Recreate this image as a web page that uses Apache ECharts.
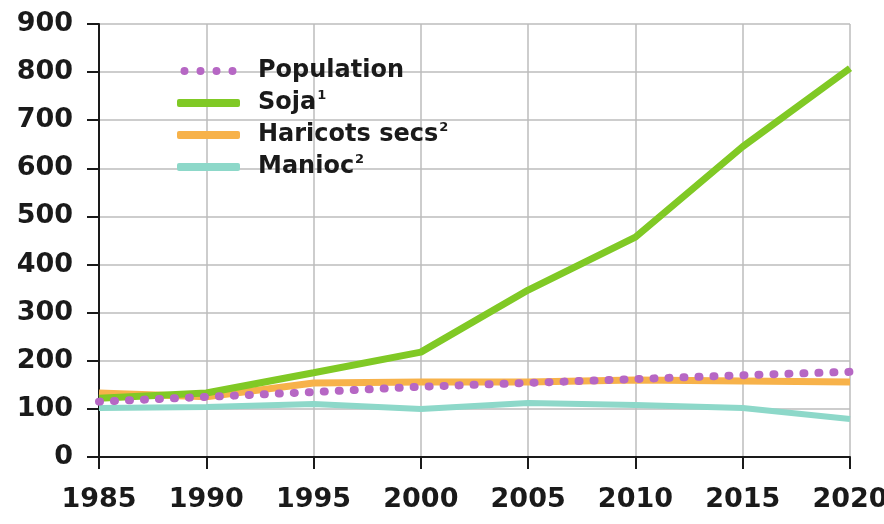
<!DOCTYPE html>
<html>
<head>
<meta charset="utf-8">
<script src="https://cdn.jsdelivr.net/npm/echarts@6/dist/echarts.min.js"></script>
<style>
  html, body { margin: 0; padding: 0; background: #fff; }
  #main { width: 884px; height: 524px; }
</style>
</head>
<body>
<div id="main"></div>
<script>
// années
var years = ['1985', '1990', '1995', '2000', '2005', '2010', '2015', '2020'];
// indices (base 100 en 1985 environ)
var population = [115, 125, 135, 146, 154, 162, 170, 177];
var soja = [122, 133, 175, 218, 347, 457, 645, 808];
var haricots = [133, 125, 154, 156, 156, 160, 158, 156];
var manioc = [102, 104, 110, 100, 112, 108, 102, 79];

var yTicks = [0, 100, 200, 300, 400, 500, 600, 700, 800, 900];

var dots = 'path://M0,4a4,4 0 1,0 8,0a4,4 0 1,0 -8,0Z' +
  'M16,4a4,4 0 1,0 8,0a4,4 0 1,0 -8,0Z' +
  'M32,4a4,4 0 1,0 8,0a4,4 0 1,0 -8,0Z' +
  'M48,4a4,4 0 1,0 8,0a4,4 0 1,0 -8,0Z';

var chart = echarts.init(document.getElementById('main'));

var option = {
  animation: false,
  grid: { left: 99, right: 34, top: 24, bottom: 67, containLabel: false, outerBoundsMode: 'none' },
  legend: {
    orient: 'vertical',
    left: 177,
    top: 57,
    padding: 0,
    itemWidth: 63,
    itemHeight: 8,
    itemGap: 4,
    textStyle: {
      fontFamily: 'DejaVu Sans',
      fontWeight: 'bold',
      fontSize: 24,
      lineHeight: 28,
      padding: [0, 0, 0, 13],
      color: '#1a1a1a',
      rich: {
        sup: { fontFamily: 'DejaVu Sans', fontWeight: 'bold', fontSize: 13, verticalAlign: 'top', lineHeight: 28, padding: [0, 0, 10, 1], color: '#1a1a1a' }
      }
    },
    data: [
      { name: 'Population', icon: dots },
      { name: 'Soja', icon: 'roundRect' },
      { name: 'Haricots secs', icon: 'roundRect' },
      { name: 'Manioc', icon: 'roundRect' }
    ],
    formatter: function (name) {
      if (name === 'Soja') return 'Soja{sup|1}';
      if (name === 'Haricots secs') return 'Haricots secs{sup|2}';
      if (name === 'Manioc') return 'Manioc{sup|2}';
      return name;
    }
  },
  xAxis: {
    type: 'category',
    data: years,
    boundaryGap: false,
    axisLine: { lineStyle: { color: '#1a1a1a', width: 2 } },
    axisTick: { show: true, length: 12, lineStyle: { color: '#1a1a1a', width: 2 } },
    axisLabel: {
      margin: 29,
      fontFamily: 'DejaVu Sans',
      fontWeight: 'bold',
      fontSize: 27,
      color: '#1a1a1a'
    },
    splitLine: { show: true, lineStyle: { color: '#bdbdbd', width: 1.5 } }
  },
  yAxis: {
    type: 'value',
    min: yTicks[0],
    max: yTicks[yTicks.length - 1],
    interval: 100,
    axisLine: { show: true, lineStyle: { color: '#1a1a1a', width: 2 } },
    axisTick: { show: true, length: 12, lineStyle: { color: '#1a1a1a', width: 2 } },
    axisLabel: {
      margin: 26,
      fontFamily: 'DejaVu Sans',
      fontWeight: 'bold',
      fontSize: 27,
      color: '#1a1a1a'
    },
    splitLine: { show: true, lineStyle: { color: '#bdbdbd', width: 1.5 } }
  },
  series: [
    {
      name: 'Manioc',
      type: 'line',
      data: manioc,
      symbol: 'none',
      color: '#8dd8c9',
      lineStyle: { width: 6, color: '#8dd8c9' },
      z: 2
    },
    {
      name: 'Haricots secs',
      type: 'line',
      data: haricots,
      symbol: 'none',
      color: '#f7b24a',
      lineStyle: { width: 7, color: '#f7b24a' },
      z: 3
    },
    {
      name: 'Soja',
      type: 'line',
      data: soja,
      symbol: 'none',
      color: '#80c925',
      lineStyle: { width: 7, color: '#80c925' },
      z: 4
    },
    {
      name: 'Population',
      type: 'line',
      data: population,
      symbol: 'none',
      color: '#b667c4',
      lineStyle: { width: 8, color: '#b667c4', type: [1, 14], cap: 'round' },
      z: 5
    }
  ]
};

chart.setOption(option);
</script>
</body>
</html>
